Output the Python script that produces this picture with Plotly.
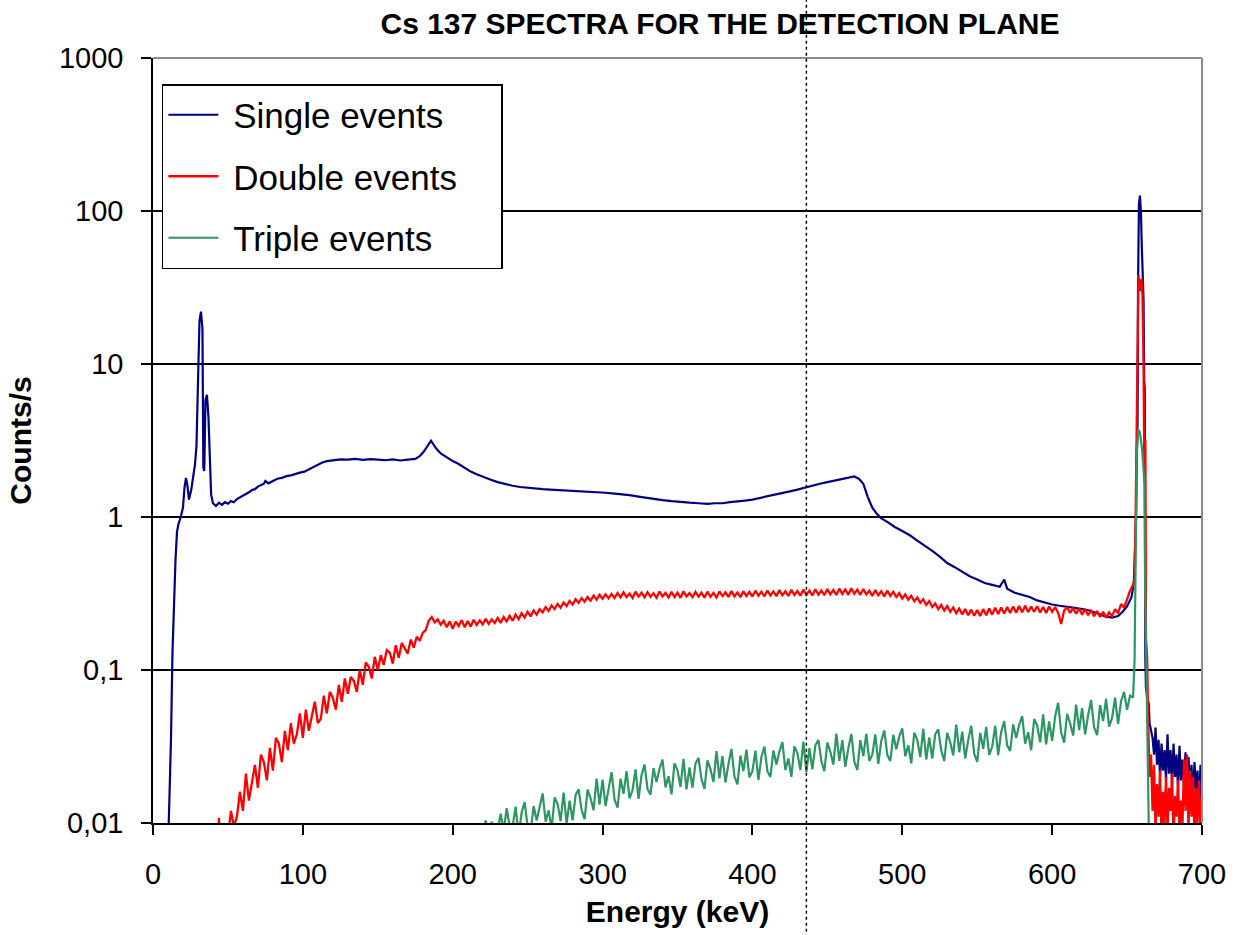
import numpy as np
import plotly.graph_objects as go

# ---------------- data ----------------
single_x = [10, 10.5, 11, 12, 13, 14, 15, 16, 17, 18.5, 20, 21, 22, 23, 24, 25.5, 26.5, 28, 29, 30,
            31, 32, 33, 33.6, 34.2, 35, 36, 37, 38, 38.8, 40, 42, 44, 46, 48, 50, 52, 54, 56, 58,
            60, 62, 64, 66, 68, 70, 72, 74, 75, 77, 80, 83, 86, 89, 92, 95, 98, 101, 104, 107,
            110, 113, 116, 119, 122, 125, 130, 135, 140, 145, 150, 155, 160, 165, 170, 175, 178, 181, 184, 185.5,
            187, 189, 192, 196, 200, 204, 208, 212, 216, 220, 225, 230, 235, 240, 245, 250, 255, 260, 265, 270,
            275, 280, 285, 290, 296, 302, 308, 313, 318, 324, 330, 335, 340, 346, 352, 358, 364, 370, 375, 380,
            385, 390, 395, 400, 405, 410, 415, 420, 425, 430, 435, 440, 445, 450, 455, 460, 465, 468, 471, 474,
            477, 480, 483, 486, 490, 495, 500, 505, 510, 515, 520, 525, 530, 535, 540, 545, 550, 555, 560, 565,
            568, 570, 575, 580, 585, 590, 595, 600, 605, 610, 615, 620, 625, 630, 635, 640, 644, 647, 650, 653,
            654.5, 655.5, 656, 656.5, 657, 657.3, 657.7, 657.9, 658.6, 659.3, 659.8, 660.3, 661, 661.4, 661.8, 662.2, 662.6, 663.5, 664.5, 665,
            666, 667, 668, 669, 670, 671, 672, 673, 674, 675, 676, 677, 678, 679, 680, 681, 682, 683, 684, 685,
            686, 687, 688, 689, 690, 691, 692, 693, 694, 695, 696, 697, 698, 699, 700]
single_y = [0.009, 0.01, 0.015, 0.035, 0.13, 0.3, 0.52, 0.8, 0.9, 1.0, 1.15, 1.55, 1.8, 1.6, 1.3, 1.5, 1.75, 2.2, 2.9, 6.7,
            19, 22, 17, 2.1, 2.0, 5.8, 6.3, 4.5, 2.0, 1.4, 1.23, 1.18, 1.24, 1.2, 1.25, 1.22, 1.27, 1.25, 1.31, 1.34,
            1.38, 1.42, 1.45, 1.5, 1.52, 1.58, 1.62, 1.65, 1.72, 1.66, 1.72, 1.78, 1.8, 1.85, 1.87, 1.92, 1.95, 1.98, 2.05, 2.12,
            2.2, 2.27, 2.32, 2.34, 2.36, 2.38, 2.37, 2.4, 2.36, 2.39, 2.37, 2.35, 2.38, 2.34, 2.37, 2.4, 2.5, 2.7, 3.0, 3.15,
            3.0, 2.8, 2.6, 2.45, 2.32, 2.22, 2.1, 1.98, 1.9, 1.83, 1.76, 1.69, 1.64, 1.6, 1.57, 1.55, 1.53, 1.52, 1.51, 1.5,
            1.5, 1.48, 1.48, 1.47, 1.46, 1.44, 1.42, 1.41, 1.39, 1.36, 1.33, 1.31, 1.29, 1.27, 1.25, 1.24, 1.23, 1.22, 1.23, 1.23,
            1.25, 1.26, 1.28, 1.3, 1.33, 1.36, 1.39, 1.43, 1.47, 1.51, 1.56, 1.6, 1.65, 1.69, 1.73, 1.78, 1.82, 1.84, 1.78, 1.65,
            1.35, 1.15, 1.05, 0.98, 0.93, 0.86, 0.81, 0.76, 0.7, 0.65, 0.6, 0.55, 0.5, 0.47, 0.44, 0.41, 0.39, 0.37, 0.36, 0.35,
            0.39, 0.34, 0.32, 0.31, 0.3, 0.285, 0.275, 0.268, 0.263, 0.26, 0.255, 0.25, 0.245, 0.235, 0.225, 0.22, 0.225, 0.24, 0.26, 0.3,
            0.37, 0.72, 1.0, 2.6, 4.1, 29, 91, 110, 126, 95, 60, 41, 26, 7.8, 7.0, 0.12, 0.077, 0.065, 0.06, 0.045,
            0.04, 0.036, 0.028, 0.042, 0.024, 0.035, 0.02, 0.033, 0.022, 0.03, 0.019, 0.038, 0.021, 0.03, 0.018, 0.033, 0.02, 0.028, 0.017, 0.032,
            0.019, 0.026, 0.018, 0.029, 0.016, 0.027, 0.017, 0.024, 0.015, 0.025, 0.016, 0.022, 0.013, 0.024, 0.012]

# Double events: start blip, 2-keV channel grid 50..654, photopeak, tail 665..700
double_start_x = [43.5, 44, 44.5, 48]
double_start_y = [0.008, 0.0108, 0.008, 0.008]
double_grid_start = 50
double_grid_step = 2
double_grid_y = [
    0.008, 0.012, 0.0095, 0.011, 0.016, 0.012, 0.021, 0.014, 0.019, 0.024,
    0.017, 0.028, 0.025, 0.019, 0.031, 0.022, 0.036, 0.033, 0.025, 0.040,
    0.030, 0.045, 0.033, 0.038, 0.052, 0.036, 0.055, 0.040, 0.050, 0.062,
    0.045, 0.048, 0.068, 0.052, 0.072, 0.066, 0.055, 0.080, 0.062, 0.088,
    0.070, 0.090, 0.085, 0.072, 0.100, 0.080, 0.112, 0.105, 0.088, 0.122,
    0.100, 0.125, 0.108, 0.135, 0.130, 0.110, 0.145, 0.120, 0.150, 0.138,
    0.128, 0.158, 0.140, 0.165, 0.155, 0.175, 0.182, 0.210, 0.222, 0.205,
    0.214, 0.198, 0.210, 0.190, 0.208, 0.186, 0.207, 0.194, 0.212, 0.190,
    0.209, 0.192, 0.213, 0.197, 0.211, 0.199, 0.216, 0.200, 0.214, 0.203,
    0.219, 0.203, 0.222, 0.208, 0.226, 0.210, 0.230, 0.215, 0.235, 0.220,
    0.240, 0.224, 0.245, 0.230, 0.250, 0.238, 0.258, 0.243, 0.264, 0.250,
    0.270, 0.255, 0.276, 0.262, 0.283, 0.268, 0.290, 0.275, 0.295, 0.280,
    0.300, 0.284, 0.306, 0.288, 0.310, 0.292, 0.312, 0.294, 0.314, 0.296,
    0.318, 0.298, 0.322, 0.300, 0.316, 0.296, 0.325, 0.302, 0.320, 0.299,
    0.323, 0.301, 0.317, 0.297, 0.326, 0.303, 0.319, 0.298, 0.324, 0.300,
    0.320, 0.296, 0.327, 0.303, 0.318, 0.299, 0.324, 0.302, 0.321, 0.297,
    0.325, 0.301, 0.319, 0.298, 0.326, 0.304, 0.322, 0.300, 0.328, 0.303,
    0.321, 0.299, 0.327, 0.305, 0.324, 0.302, 0.330, 0.306, 0.325, 0.303,
    0.331, 0.307, 0.326, 0.304, 0.333, 0.308, 0.327, 0.305, 0.334, 0.309,
    0.328, 0.306, 0.335, 0.310, 0.330, 0.307, 0.337, 0.311, 0.331, 0.308,
    0.338, 0.312, 0.334, 0.309, 0.340, 0.314, 0.336, 0.310, 0.342, 0.315,
    0.335, 0.310, 0.338, 0.312, 0.330, 0.305, 0.333, 0.308, 0.327, 0.303,
    0.330, 0.305, 0.324, 0.300, 0.318, 0.293, 0.312, 0.288, 0.305, 0.282,
    0.298, 0.275, 0.290, 0.266, 0.282, 0.258, 0.272, 0.250, 0.266, 0.245,
    0.262, 0.240, 0.256, 0.235, 0.252, 0.231, 0.250, 0.228, 0.248, 0.226,
    0.247, 0.225, 0.250, 0.228, 0.252, 0.230, 0.255, 0.232, 0.256, 0.234,
    0.258, 0.236, 0.260, 0.237, 0.262, 0.238, 0.263, 0.239, 0.260, 0.240,
    0.261, 0.238, 0.258, 0.236, 0.260, 0.240, 0.258, 0.236, 0.200, 0.245,
    0.257, 0.236, 0.255, 0.233, 0.252, 0.230, 0.250, 0.228, 0.246, 0.225,
    0.243, 0.222, 0.240, 0.220, 0.238, 0.225, 0.250, 0.235, 0.270, 0.255,
    0.290, 0.330, 0.360]
double_peak_x = [655, 655.6, 656.3, 657, 657.6, 658.6, 659.6, 660.3, 661, 661.6, 662.2, 662.6, 663.4, 664, 664.6]
double_peak_y = [0.39, 0.8, 2.6, 8, 38, 30, 36, 28, 10, 1.67, 3.2, 0.16, 0.12, 0.05, 0.033]
double_tail_start = 665
double_tail_step = 1
double_tail_y = [0.020, 0.028, 0.012, 0.024, 0.009, 0.018, 0.011, 0.022, 0.008, 0.016,
                 0.010, 0.020, 0.009, 0.017, 0.012, 0.021, 0.008, 0.015, 0.011, 0.019,
                 0.009, 0.014, 0.010, 0.026, 0.012, 0.028, 0.009, 0.022, 0.011, 0.020,
                 0.008, 0.017, 0.010, 0.019, 0.009, 0.015]

# Triple events: 2-keV channel grid 220..654, then photopeak
triple_grid_start = 220
triple_grid_step = 2
triple_grid_y = [
    0.0080, 0.0104, 0.0080, 0.0102, 0.0085, 0.0090, 0.0115, 0.0088, 0.0125, 0.0095,
    0.0095, 0.0128, 0.0083, 0.0117, 0.0137, 0.0095, 0.0087, 0.0129, 0.0104, 0.0127,
    0.0156, 0.0102, 0.0121, 0.0092, 0.0147, 0.0133, 0.0103, 0.0158, 0.0099, 0.0140,
    0.0104, 0.0152, 0.0166, 0.0122, 0.0106, 0.0165, 0.0145, 0.0121, 0.0195, 0.0132,
    0.0192, 0.0129, 0.0171, 0.0215, 0.0142, 0.0126, 0.0195, 0.0155, 0.0218, 0.0145,
    0.0164, 0.0224, 0.0144, 0.0205, 0.0241, 0.0167, 0.0153, 0.0228, 0.0185, 0.0226,
    0.0260, 0.0171, 0.0202, 0.0154, 0.0245, 0.0222, 0.0172, 0.0263, 0.0166, 0.0231,
    0.0170, 0.0245, 0.0266, 0.0194, 0.0167, 0.0257, 0.0224, 0.0185, 0.0295, 0.0196,
    0.0274, 0.0184, 0.0243, 0.0305, 0.0201, 0.0179, 0.0276, 0.0218, 0.0302, 0.0199,
    0.0218, 0.0297, 0.0191, 0.0270, 0.0316, 0.0218, 0.0200, 0.0298, 0.0241, 0.0293,
    0.0338, 0.0222, 0.0264, 0.0200, 0.0317, 0.0286, 0.0222, 0.0340, 0.0215, 0.0308,
    0.0224, 0.0322, 0.0349, 0.0254, 0.0218, 0.0336, 0.0292, 0.0241, 0.0384, 0.0255,
    0.0348, 0.0233, 0.0308, 0.0382, 0.0252, 0.0222, 0.0348, 0.0274, 0.0383, 0.0254,
    0.0279, 0.0380, 0.0243, 0.0345, 0.0403, 0.0279, 0.0254, 0.0377, 0.0303, 0.0368,
    0.0416, 0.0273, 0.0322, 0.0245, 0.0389, 0.0350, 0.0270, 0.0413, 0.0260, 0.0363,
    0.0264, 0.0380, 0.0409, 0.0297, 0.0254, 0.0389, 0.0337, 0.0277, 0.0439, 0.0290,
    0.0396, 0.0264, 0.0348, 0.0432, 0.0284, 0.0251, 0.0389, 0.0305, 0.0425, 0.0279,
    0.0315, 0.0432, 0.0278, 0.0394, 0.0464, 0.0322, 0.0296, 0.0441, 0.0359, 0.0437,
    0.0500, 0.0330, 0.0392, 0.0299, 0.0478, 0.0434, 0.0337, 0.0513, 0.0326, 0.0462,
    0.0344, 0.0497, 0.0610, 0.0392, 0.0335, 0.0517, 0.0449, 0.0373, 0.0594, 0.0405,
    0.0564, 0.0380, 0.0504, 0.0637, 0.0421, 0.0375, 0.0589, 0.0463, 0.0648, 0.0426,
    0.0486, 0.0660, 0.0445, 0.0625, 0.0720, 0.0550, 0.0680, 0.0660]
triple_peak_x = [655, 655.8, 656.5, 657.5, 658.5, 660, 661.6, 662, 663, 664, 664.6]
triple_peak_y = [0.116, 0.5, 2.6, 3.7, 3.6, 2.8, 1.67, 0.39, 0.1, 0.03, 0.008]

series_names = ["Single events", "Double events", "Triple events"]
x_ticks = [0, 100, 200, 300, 400, 500, 600, 700]
y_ticks = [0.01, 0.1, 1, 10, 100, 1000]
y_tick_labels = ["0,01", "0,1", "1", "10", "100", "1000"]
marker_energy = 436

# ---------------- assemble series ----------------
double_x = (double_start_x
            + [double_grid_start + double_grid_step * i for i in range(len(double_grid_y))]
            + double_peak_x
            + [double_tail_start + double_tail_step * i for i in range(len(double_tail_y))])
double_y = double_start_y + double_grid_y + double_peak_y + double_tail_y

triple_x = ([triple_grid_start + triple_grid_step * i for i in range(len(triple_grid_y))]
            + triple_peak_x)
triple_y = triple_grid_y + triple_peak_y

FONT = "Arial, Liberation Sans, Helvetica, sans-serif"
NB = "\u00a0"


def legend_label(s):
    # padding with non-breaking spaces so the legend box gets the reference's proportions
    return NB + s + NB * 4


fig = go.Figure()
fig.add_trace(go.Scatter(x=single_x, y=single_y, mode="lines", name=legend_label(series_names[0]),
                         legendgroup="a", line=dict(color="#000080", width=2.2)))
fig.add_trace(go.Scatter(x=double_x, y=double_y, mode="lines", name=legend_label(series_names[1]),
                         legendgroup="b", line=dict(color="#FF0000", width=2.3)))
fig.add_trace(go.Scatter(x=triple_x, y=triple_y, mode="lines", name=legend_label(series_names[2]),
                         legendgroup="c", line=dict(color="#2E9662", width=2.2)))

fig.update_layout(
    width=1238, height=935,
    margin=dict(l=153, r=28, t=58, b=112),
    paper_bgcolor="white", plot_bgcolor="white",
    font=dict(family=FONT, color="black"),
    title=dict(text="<b>Cs 137 SPECTRA FOR THE DETECTION PLANE</b>",
               font=dict(size=30, family=FONT, color="black"),
               x=720 / 1238, xanchor="center", y=1 - 23 / 935, yanchor="middle"),
    showlegend=True,
    legend=dict(x=0.0085, y=0.966, xanchor="left", yanchor="top",
                bgcolor="white", bordercolor="black", borderwidth=1.5,
                font=dict(size=35, family=FONT, color="black"),
                tracegroupgap=13, traceorder="grouped", itemwidth=50),
    xaxis=dict(range=[0, 700], tickvals=x_ticks, ticks="outside", ticklen=10, tickwidth=1.5,
               tickcolor="black", showline=True, linecolor="black", linewidth=1.5,
               showgrid=False, zeroline=False, ticklabelstandoff=14,
               tickfont=dict(size=29, family=FONT, color="black"),
               title=dict(text="<b>Energy (keV)</b>", font=dict(size=30, family=FONT), standoff=12)),
    yaxis=dict(type="log", range=[-2, 3], tickvals=y_ticks, ticktext=y_tick_labels,
               ticks="outside", ticklen=10, tickwidth=1.5, tickcolor="black",
               showline=True, linecolor="black", linewidth=1.5, ticklabelstandoff=12,
               showgrid=True, gridcolor="black", gridwidth=1.5, zeroline=False,
               tickfont=dict(size=29, family=FONT, color="black"),
               title=dict(text="<b>Counts/s</b>", font=dict(size=30, family=FONT), standoff=18)),
)

# gray plot-area border on top and right
fig.add_shape(type="line", xref="paper", yref="paper", x0=0, x1=1, y0=1, y1=1,
              line=dict(color="#8c8c8c", width=2), layer="above")
fig.add_shape(type="line", xref="paper", yref="paper", x0=1, x1=1, y0=0, y1=1,
              line=dict(color="#8c8c8c", width=2), layer="above")
# dotted vertical marker crossing the whole picture
fig.add_shape(type="line", xref="x", yref="paper", x0=marker_energy, x1=marker_energy,
              y0=-0.15, y1=1.08, line=dict(color="black", width=1.5, dash="dot"), layer="above")

fig.write_html("out.html")
